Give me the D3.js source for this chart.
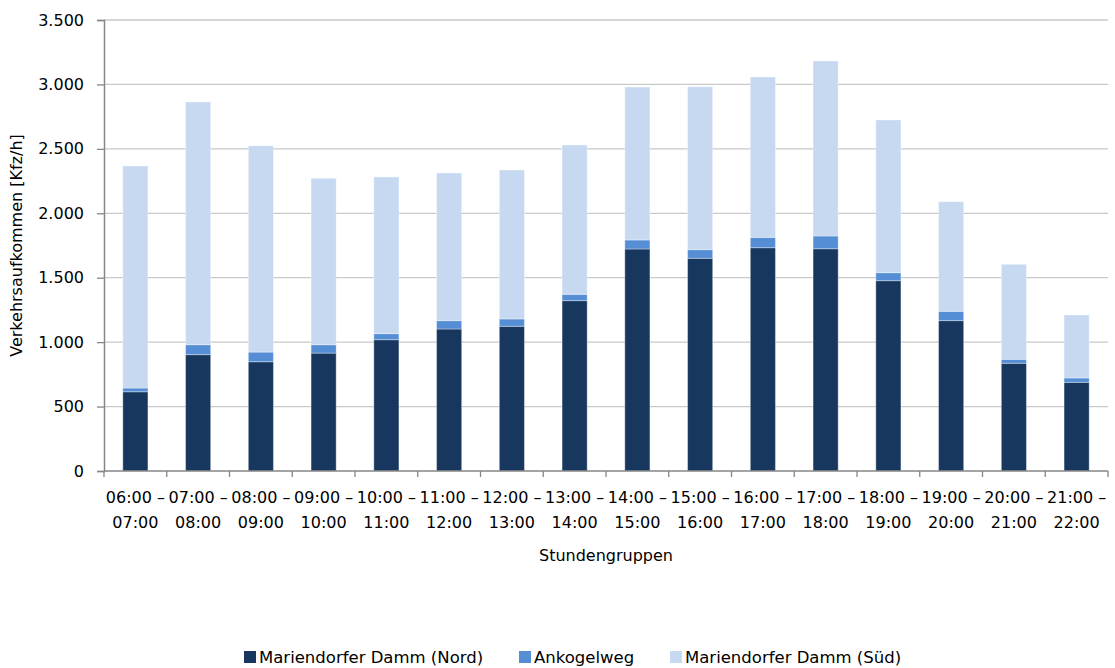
<!DOCTYPE html>
<html>
<head>
<meta charset="utf-8">
<script src="https://cdn.jsdelivr.net/npm/d3@7/dist/d3.min.js"></script>
<style>
  html, body { margin: 0; padding: 0; background: #fff; }
  svg { display: block; }
  text { font-family: "DejaVu Sans", sans-serif; fill: #000; }
</style>
</head>
<body>
<svg id="chart" width="1115" height="668"></svg>
<script>
// Stundengruppen (start, end)
const hourStarts = ["06:00","07:00","08:00","09:00","10:00","11:00","12:00","13:00",
                    "14:00","15:00","16:00","17:00","18:00","19:00","20:00","21:00"];
const hourEnds   = ["07:00","08:00","09:00","10:00","11:00","12:00","13:00","14:00",
                    "15:00","16:00","17:00","18:00","19:00","20:00","21:00","22:00"];

// Verkehrsaufkommen [Kfz/h] je Zufahrt
const nord      = [615, 903, 848, 915, 1019, 1102, 1123, 1322, 1723, 1651, 1733, 1725, 1477, 1167, 836, 688];
const ankogel   = [29, 77, 75, 65, 47, 65, 57, 49, 70, 67, 80, 99, 62, 72, 31, 34];
const sued      = [1723, 1884, 1601, 1292, 1216, 1146, 1156, 1159, 1187, 1264, 1245, 1358, 1185, 851, 737, 489];

const seriesNames  = ["Mariendorfer Damm (Nord)", "Ankogelweg", "Mariendorfer Damm (Süd)"];
const seriesColors = ["#17375E", "#558ED5", "#C6D9F1"];
const yTicks = [0, 500, 1000, 1500, 2000, 2500, 3000, 3500];

const categories = hourStarts.map((s, i) => s + " – " + hourEnds[i]);
const rows = categories.map((c, i) => ({ cat: c, s0: nord[i], s1: ankogel[i], s2: sued[i] }));

const svg = d3.select("#chart");
const plotL = 104, plotR = 1108, plotT = 20, plotB = 471;

const x = d3.scaleBand().domain(categories).range([plotL, plotR]).paddingInner(0.6).paddingOuter(0.3);
const y = d3.scaleLinear().domain([0, 3500]).range([plotB, plotT]);

const fmt = v => d3.format(",")(v).replace(/,/g, ".");

// Gridlines
svg.append("g").selectAll("line").data(yTicks.filter(t => t > 0)).join("line")
  .attr("x1", plotL).attr("x2", plotR)
  .attr("y1", d => y(d)).attr("y2", d => y(d))
  .attr("stroke", "#c9c9c9").attr("stroke-width", 1.3);

// Stacked bars
const stack = d3.stack().keys(["s0", "s1", "s2"]);
const layers = stack(rows);
svg.append("g").selectAll("g").data(layers).join("g")
  .attr("fill", (d, i) => seriesColors[i])
  .selectAll("rect").data(d => d).join("rect")
  .attr("x", d => x(d.data.cat))
  .attr("width", x.bandwidth())
  .attr("y", d => y(d[1]))
  .attr("height", d => y(d[0]) - y(d[1]))
  .attr("stroke", "rgba(255,255,255,0.35)")
  .attr("stroke-width", 1);

// Y axis
const yAxis = d3.axisLeft(y).tickValues(yTicks).tickFormat(fmt).tickSize(7).tickPadding(13);
const gy = svg.append("g").attr("transform", `translate(${plotL},0)`).call(yAxis);
gy.select(".domain").attr("stroke", "#868686").attr("stroke-width", 1.5);
gy.selectAll(".tick line").attr("stroke", "#868686").attr("stroke-width", 1.3);
gy.selectAll(".tick text").style("font-size", "16px").style("font-family", "DejaVu Sans, sans-serif").attr("fill", "#000");

// X axis with ticks at category boundaries
const gx = svg.append("g").attr("transform", `translate(0,${plotB})`);
gx.append("line").attr("x1", plotL).attr("x2", plotR).attr("y1", 0).attr("y2", 0)
  .attr("stroke", "#868686").attr("stroke-width", 1.5);
gx.selectAll("line.tk").data(d3.range(categories.length + 1)).join("line")
  .attr("class", "tk")
  .attr("x1", i => plotL + i * (plotR - plotL) / categories.length)
  .attr("x2", i => plotL + i * (plotR - plotL) / categories.length)
  .attr("y1", 0).attr("y2", 6)
  .attr("stroke", "#868686").attr("stroke-width", 1.3);

const labels = gx.selectAll("text").data(categories).join("text")
  .attr("text-anchor", "middle")
  .style("font-size", "16px");
labels.append("tspan")
  .attr("x", d => x(d) + x.bandwidth() / 2)
  .attr("y", 32)
  .text((d, i) => hourStarts[i] + " –");
labels.append("tspan")
  .attr("x", d => x(d) + x.bandwidth() / 2)
  .attr("y", 57)
  .text((d, i) => hourEnds[i]);

// Axis titles
svg.append("text")
  .attr("x", (plotL + plotR) / 2).attr("y", 561)
  .attr("text-anchor", "middle")
  .style("font-size", "16px")
  .text("Stundengruppen");

svg.append("text")
  .attr("transform", `translate(22,${(plotT + plotB) / 2}) rotate(-90)`)
  .attr("text-anchor", "middle")
  .style("font-size", "16px")
  .text("Verkehrsaufkommen [Kfz/h]");

// Legend
const legendX = [244, 519, 670];
const lg = svg.append("g").selectAll("g").data(seriesNames).join("g")
  .attr("transform", (d, i) => `translate(${legendX[i]},651)`);
lg.append("rect").attr("width", 12).attr("height", 12).attr("fill", (d, i) => seriesColors[i]);
lg.append("text").attr("x", 15).attr("y", 12).style("font-size", "16.5px").text(d => d);
</script>
</body>
</html>
